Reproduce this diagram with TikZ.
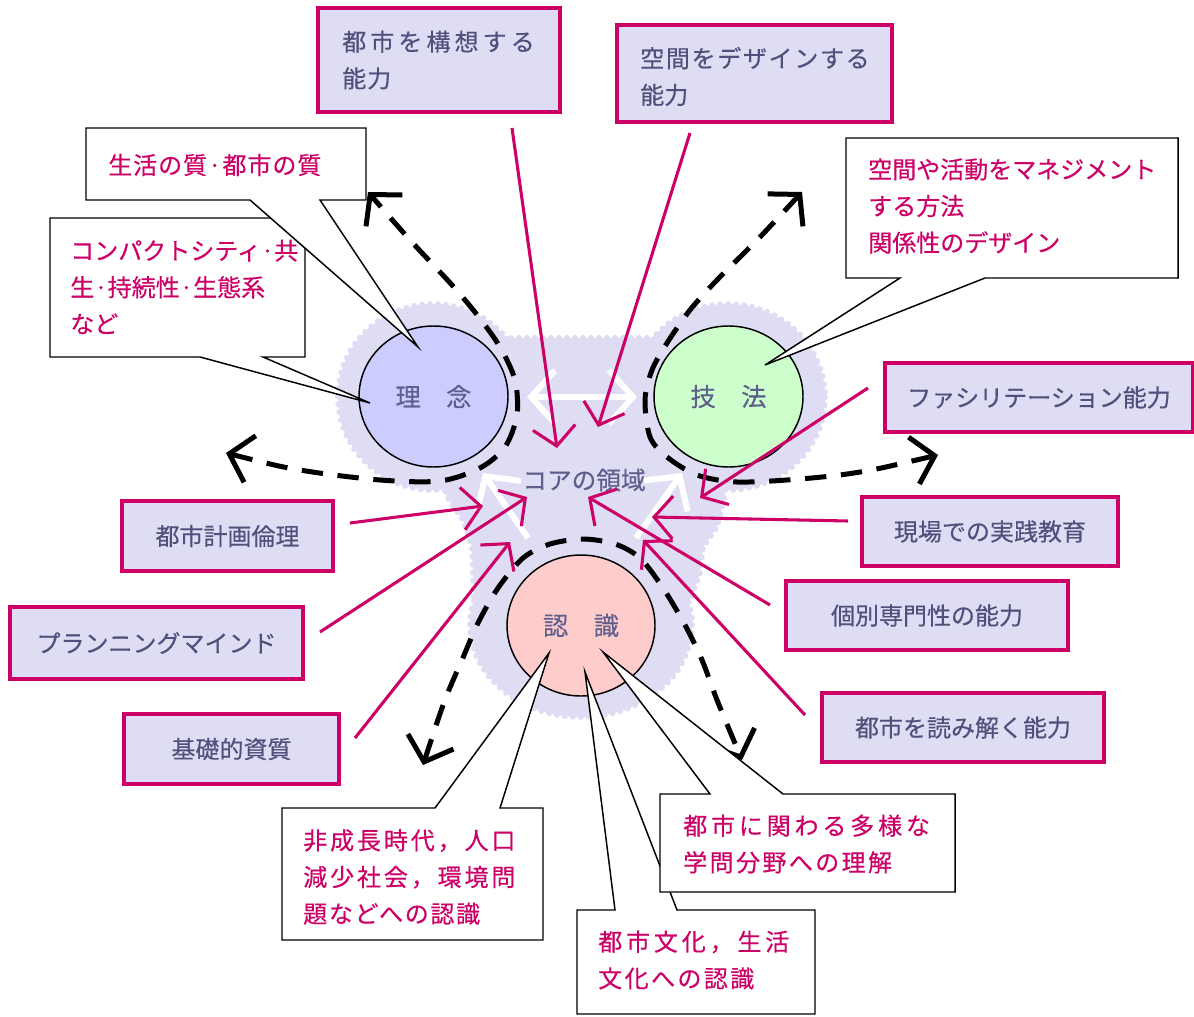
\documentclass[tikz,border=0pt]{standalone}
\usepackage{fontspec}
\setmainfont{Noto Sans CJK JP}[FakeBold=0.35]
\usetikzlibrary{arrows.meta,shapes.geometric}
\definecolor{pk}{HTML}{CC0066}
\definecolor{lav}{HTML}{DEDDF4}
\definecolor{boxtext}{HTML}{50507C}
\definecolor{circtext}{HTML}{5F5F8E}
\definecolor{cA}{HTML}{CCCCFF}
\definecolor{cB}{HTML}{CCFFCC}
\definecolor{cC}{HTML}{FFCCCC}
\newcommand\LSp[2]{{\addfontfeature{LetterSpace=#1}#2}}
\begin{document}
\begin{tikzpicture}[x=0.75pt,y=-0.75pt,
  font=\fontsize{18pt}{27.5pt}\selectfont,
  pinkbox/.style={draw=pk, fill=lav, line width=2.4pt, text=boxtext, inner sep=0pt},
  callout/.style={draw=black, fill=white, line width=1.1pt, line join=miter},
  calltxt/.style={text=pk, align=left, anchor=west, inner sep=0pt},
  boxtxt/.style={text=boxtext, align=left, anchor=west, inner sep=0pt},
  circ/.style={ellipse, draw=black, line width=1.1pt, minimum width=111.75pt, minimum height=105.75pt, text=circtext, inner sep=0pt, font=\fontsize{19pt}{24pt}\selectfont},
  blobpart/.style={fill=lav, draw=lav, line width=4.5pt, dash pattern=on 0pt off 6pt, line cap=round},
  darr/.style={draw=black, line width=3.75pt, dash pattern=on 16pt off 11pt, >={Straight Barb[length=16pt,width=36pt]}, <->},
  warr/.style={draw=white, line width=4.5pt, >={Straight Barb[length=18pt,width=40pt]}},
  parr/.style={draw=pk, line width=2.3pt, -{Straight Barb[length=14pt,width=32pt]}}
]
\useasboundingbox (0,0) rectangle (1194,1016);
\fill[white] (0,0) rectangle (1194,1016);

% ---- lavender core blob
\path[blobpart] (433,397) ellipse [x radius=95, y radius=93];
\path[blobpart] (728,397) ellipse [x radius=97, y radius=93];
\path[blobpart] (581,625) ellipse [x radius=111, y radius=92];
\path[blobpart] (480,338) -- (440,470) -- (447,497) -- (463,520) -- (472,547) -- (474,600)
  -- (690,600) -- (700,573) -- (703,547) -- (717,527) -- (725,495) -- (680,338) -- cycle;

% ---- circles
\node[circ, fill=cA] (rinen) at (433.5,396.5) {理　念};
\node[circ, fill=cB] (gihou) at (728.5,396.5) {技　法};
\node[circ, fill=cC, minimum width=111pt] (ninshiki) at (581,625.5) {認　識};

% ---- dashed double arrows
\coordinate (dLa) at (226,453); \coordinate (dLb) at (368,192);
\coordinate (dRa) at (938,455); \coordinate (dRb) at (802,192);
\coordinate (dBa) at (423,765); \coordinate (dBb) at (742,760);
\draw[darr] plot[smooth] coordinates {(dLa) (300,470) (380,480) (440,481) (480,468) (505,447) (517,415) (515,380) (500,347) (478,316) (452,285) (410,240) (dLb)};
\draw[darr] plot[smooth] coordinates {(dRa) (860,472) (800,479) (737,482) (697,475) (667,457) (650,437) (645,400) (652,370) (667,343) (690,310) (717,280) (760,237) (dRb)};
\draw[darr] plot[smooth] coordinates {(dBa) (445,700) (462,660) (478,623) (498,588) (523,558) (550,544) (583,539) (615,544) (640,558) (663,588) (685,625) (702,660) (717,700) (dBb)};

% ---- white arrows
\coordinate (w1) at (527,397); \coordinate (w2) at (637,397);
\coordinate (w3) at (483,473); \coordinate (w4) at (528,538);
\coordinate (w5) at (682,473); \coordinate (w6) at (636,538);
\draw[warr,<->] (w1) -- (w2);
\draw[warr,<-] (w3) -- (w4);
\draw[warr,<-] (w5) -- (w6);

% ---- core label
\node[text=circtext, inner sep=0pt, font=\fontsize{18.5pt}{24pt}\selectfont] (core) at (584,480) {コアの領域};

% ---- pink arrows
\coordinate (p1s) at (512,128); \coordinate (p1e) at (557,448);
\coordinate (p2s) at (690,133); \coordinate (p2e) at (598,427);
\coordinate (p3s) at (868,388); \coordinate (p3e) at (700,498);
\coordinate (p4s) at (848,521); \coordinate (p4e) at (652,517);
\coordinate (p5s) at (770,605); \coordinate (p5e) at (588,497);
\coordinate (p6s) at (805,715); \coordinate (p6e) at (643,540);
\coordinate (p7s) at (350,523); \coordinate (p7e) at (483,506);
\coordinate (p8s) at (320,632); \coordinate (p8e) at (527,497);
\coordinate (p9s) at (355,738); \coordinate (p9e) at (510,542);
\foreach \i in {1,...,9} {\draw[parr] (p\i s) -- (p\i e);}

% ---- callouts
\draw[callout] (50,218) -- (305,218) -- (305,357) -- (263,357) -- (370,403) -- (200,357) -- (50,357) -- cycle;
\draw[callout] (86,128) -- (366,128) -- (366,200) -- (320,200) -- (418,347) -- (250,200) -- (86,200) -- cycle;
\draw[callout] (846,138) -- (1178,138) -- (1178,278) -- (985,278) -- (765,365) -- (900,278) -- (846,278) -- cycle;
\draw[callout] (282,808) -- (435,808) -- (549,653) -- (500,808) -- (543,808) -- (543,940) -- (282,940) -- cycle;
\draw[callout] (577,910) -- (615,910) -- (585,672) -- (677,910) -- (815,910) -- (815,1014) -- (577,1014) -- cycle;
\draw[callout] (660,794) -- (710,794) -- (603,652) -- (783,794) -- (955,794) -- (955,892) -- (660,892) -- cycle;

\node[calltxt] (c1) at (108,165) {\LSp{4}{生活の質·都市の質}};
\node[calltxt] (c2) at (70,287) {コンパクトシティ·共\\生·持続性·生態系\\など};
\node[calltxt] (c3) at (868,206) {空間や活動をマネジメント\\する方法\\関係性のデザイン};
\node[calltxt] (c4) at (303,877) {\LSp{12}{非成長時代，人口}\\\LSp{12}{減少社会，環境問}\\\LSp{7}{題などへの認識}};
\node[calltxt] (c5) at (598,960) {\LSp{16}{都市文化，生活}\\\LSp{10}{文化への認識}};
\node[calltxt] (c6) at (683,844) {\LSp{16}{都市に関わる多様な}\\\LSp{10}{学問分野への理解}};

% ---- pink boxes
\node[pinkbox, minimum width=181.5pt, minimum height=78pt] (b1) at (439,60) {};
\node[boxtxt] (t1) at (342,60) {\LSp{17}{都市を構想する}\\\LSp{4}{能力}};
\node[pinkbox, minimum width=206.25pt, minimum height=72.75pt] (b2) at (754.5,73.5) {};
\node[boxtxt] (t2) at (640,76.5) {\LSp{7}{空間をデザインする}\\能力};
\node[pinkbox, minimum width=231pt, minimum height=51.75pt] (b3) at (1039,397.5) {ファシリテーション能力};
\node[pinkbox, minimum width=192pt, minimum height=51.75pt] (b4) at (990,531.5) {現場での実践教育};
\node[pinkbox, minimum width=211.5pt, minimum height=51.75pt] (b5) at (927,615.5) {個別専門性の能力};
\node[pinkbox, minimum width=211.5pt, minimum height=51.75pt] (b6) at (963,727.5) {都市を読み解く能力};
\node[pinkbox, minimum width=158.25pt, minimum height=52.5pt] (b7) at (227.5,536) {都市計画倫理};
\node[pinkbox, minimum width=219.75pt, minimum height=54pt] (b8) at (156.5,643) {プランニングマインド};
\node[pinkbox, minimum width=161.25pt, minimum height=52.5pt] (b9) at (231.5,749) {基礎的資質};
\end{tikzpicture}
\end{document}
